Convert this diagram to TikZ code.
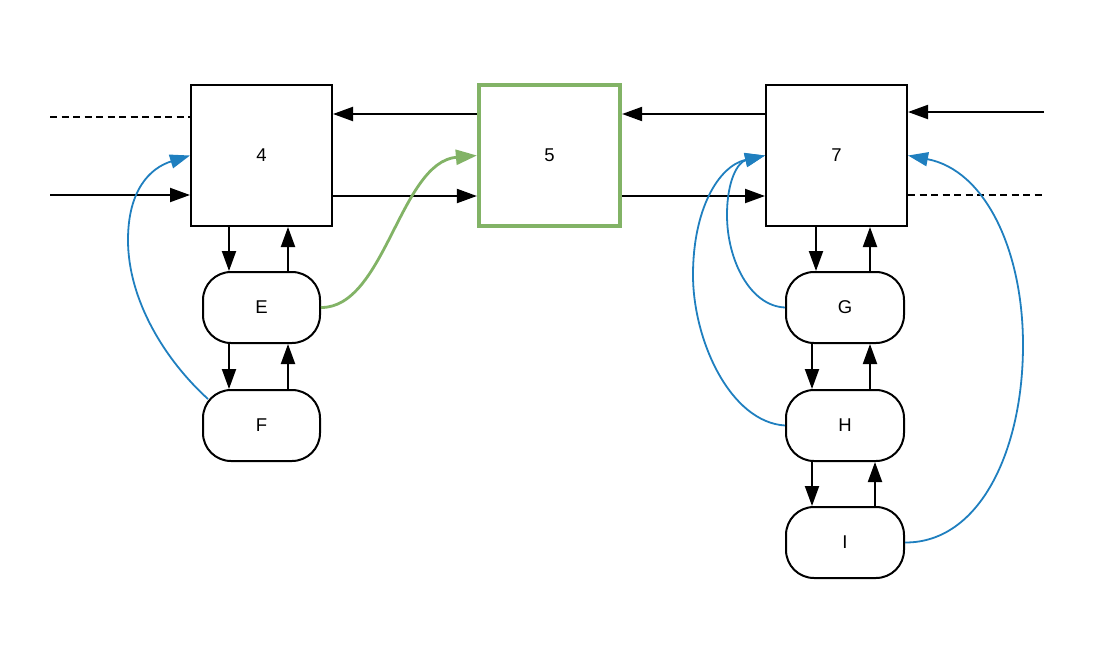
\documentclass[tikz,border=0pt]{standalone}
\usepackage{fontspec}
\setmainfont{Liberation Sans}
\usetikzlibrary{arrows.meta}
\definecolor{lblue}{HTML}{1F7FBF}
\definecolor{lgreen}{HTML}{82B366}
\begin{document}
\begin{tikzpicture}[x=1pt,y=-1pt,
  lbl/.style={font=\fontsize{18.5}{22}\selectfont},
  box/.style={lbl, draw=black, line width=2pt, minimum width=141pt, minimum height=141pt, inner sep=0pt},
  greenbox/.style={box, draw=lgreen, line width=4.2pt},
  pill/.style={lbl, draw=black, line width=2pt, rounded corners=28pt, minimum width=117pt, minimum height=71pt, inner sep=0pt},
  widepill/.style={pill, minimum width=118pt},
  arr/.style={line width=2pt, -{Triangle[length=20pt,width=14pt]}},
  dline/.style={line width=2pt, dash pattern=on 7pt off 4.5pt},
  barr/.style={line width=1.8pt, draw=lblue, -{Triangle[length=20pt,width=14pt]}, lblue},
  garr/.style={line width=2.8pt, draw=lgreen, -{Triangle[length=21pt,width=15pt]}, lgreen}
]
\useasboundingbox (0,0) rectangle (1106,654);

\node[box] (n4) at (261.5,155.5) {4};
\node[greenbox] (n5) at (549.5,155.5) {5};
\node[box] (n7) at (836.5,155.5) {7};
\node[pill] (E) at (261.5,307.5) {E};
\node[pill] (F) at (261.5,425.5) {F};
\node[widepill] (G) at (845,307.5) {G};
\node[widepill] (H) at (845,425.5) {H};
\node[widepill] (I) at (845,542.5) {I};

\coordinate (ldash) at (50,117);
\coordinate (lin) at (50,195);
\coordinate (rin) at (1044,112);
\coordinate (rdash) at (1044,195);

% left side
\draw[dline] (ldash) -- (ldash -| n4.west);
\draw[arr] (lin) -- (lin -| n4.west);
% 4 <-> 5
\draw[arr] ([yshift=-40.5]n4.east) -- ([yshift=-40.5]n5.west);
\draw[arr] ([yshift=41.5]n5.west) -- ([yshift=41.5]n4.east);
% 5 <-> 7
\draw[arr] ([yshift=41.5]n7.west) -- ([yshift=41.5]n5.east);
\draw[arr] ([yshift=-40.5]n5.east) -- ([yshift=-40.5]n7.west);
% right side
\draw[arr] (rin) -- (rin -| n7.east);
\draw[dline] (rdash -| n7.east) -- (rdash);

% 4 <-> E <-> F
\draw[arr] ([xshift=-32.5]n4.south) -- ([xshift=-32.5]E.north);
\draw[arr] ([xshift=26.5]E.north) -- ([xshift=26.5]n4.south);
\draw[arr] ([xshift=-32.5]E.south) -- ([xshift=-32.5]F.north);
\draw[arr] ([xshift=26.5]F.north) -- ([xshift=26.5]E.south);

% 7 <-> G <-> H <-> I
\draw[arr] ([xshift=-20.5]n7.south) -- ([xshift=-29]G.north);
\draw[arr] ([xshift=25]G.north) -- ([xshift=33.5]n7.south);
\draw[arr] ([xshift=-33]G.south) -- ([xshift=-33]H.north);
\draw[arr] ([xshift=25]H.north) -- ([xshift=25]G.south);
\draw[arr] ([xshift=-33]H.south) -- ([xshift=-33]I.north);
\draw[arr] ([xshift=30]I.north) -- ([xshift=30]H.south);

% green curve
\draw[garr] (E.east) .. controls (385,308) and (400,162) .. (n5.west);

% blue curves
\draw[barr] ([shift={(6,10)}]F.north west) .. controls (165,360) and (128,300) .. (128,240)
  .. controls (128,190) and (150,168) .. (n4.west);
\draw[barr] (G.west) .. controls (750,306) and (727,260) .. (727,215)
  .. controls (727,180) and (738,162) .. (n7.west);
\draw[barr] (H.west) .. controls (730,422) and (693,340) .. (693,275)
  .. controls (693,210) and (718,166) .. (n7.west);
\draw[barr] (I.east) .. controls (980,543) and (1023,450) .. (1023,345)
  .. controls (1023,250) and (985,170) .. (n7.east);
\end{tikzpicture}
\end{document}
